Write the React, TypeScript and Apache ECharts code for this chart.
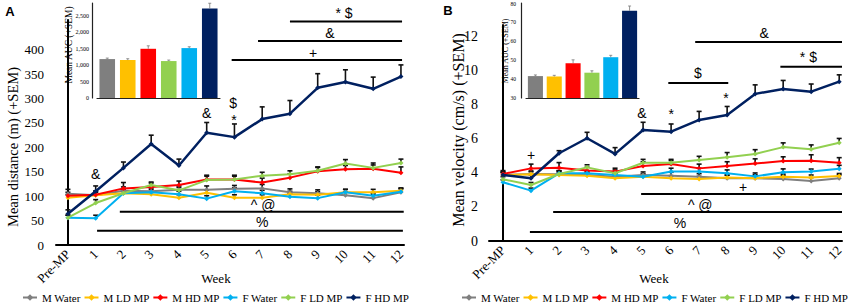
import React, { useEffect, useRef } from 'react';
import * as echarts from 'echarts';

const weeks = ['Pre-MP', '1', '2', '3', '4', '5', '6', '7', '8', '9', '10', '11', '12'];
const weekIdx = weeks.map((_, i) => i);

const seriesNames = ['M Water', 'M LD MP', 'M HD MP', 'F Water', 'F LD MP', 'F HD MP'];
const seriesColors = ['#7f7f7f', '#ffc000', '#ff0000', '#00b0f0', '#92d050', '#002060'];

// Panel A: mean distance (m)
const distMWater = [105, 102, 111, 110, 113, 113, 115, 116, 108, 106, 102, 96, 108];
const distMLd = [97, 102, 106, 104, 97, 107, 97, 97, 104, 103, 108, 108, 111];
const distMHd = [101, 103, 116, 119, 123, 134, 134, 128, 138, 151, 155, 156, 148];
const distFWater = [56, 55, 106, 108, 104, 95, 110, 106, 99, 96, 108, 101, 109];
const distFLd = [56, 86, 106, 123, 112, 133, 134, 142, 145, 152, 167, 158, 168];
const distFHd = [64, 110, 158, 207, 163, 230, 221, 258, 269, 322, 334, 320, 345];

const distErrMWater = [9, 7, 8, 7, 8, 8, 7, 8, 7, 7, 7, 8, 8];
const distErrMLd = [6, 6, 6, 5, 6, 6, 6, 6, 6, 6, 6, 6, 6];
const distErrMHd = [7, 8, 12, 8, 8, 9, 9, 9, 8, 8, 8, 8, 12];
const distErrFWater = [5, 6, 6, 6, 6, 6, 7, 6, 6, 6, 6, 6, 6];
const distErrFLd = [5, 7, 6, 6, 6, 8, 7, 7, 7, 8, 8, 10, 8];
const distErrFHd = [8, 11, 12, 18, 13, 21, 27, 25, 27, 29, 25, 24, 24];

// Panel B: mean velocity (cm/s)
const velMWater = [3.88, 3.94, 3.92, 3.88, 3.78, 3.88, 3.84, 3.78, 3.69, 3.69, 3.65, 3.53, 3.69];
const velMLd = [3.88, 3.92, 3.88, 3.84, 3.69, 3.78, 3.69, 3.65, 3.73, 3.69, 3.78, 3.73, 3.82];
const velMHd = [3.94, 4.27, 4.31, 4.14, 4.08, 4.41, 4.53, 4.27, 4.41, 4.55, 4.7, 4.72, 4.6];
const velFWater = [3.45, 2.96, 3.98, 3.98, 3.88, 3.78, 4.08, 4.08, 3.98, 3.8, 4.04, 4.08, 4.25];
const velFLd = [3.63, 3.29, 3.94, 4.33, 3.98, 4.6, 4.6, 4.76, 4.92, 5.12, 5.52, 5.4, 5.78];
const velFHd = [3.88, 3.69, 5.16, 6.04, 5.12, 6.53, 6.43, 7.12, 7.41, 8.65, 8.94, 8.78, 9.37];

const velErrMWater = [0.2, 0.18, 0.18, 0.18, 0.18, 0.18, 0.2, 0.18, 0.18, 0.2, 0.2, 0.2, 0.2];
const velErrMLd = [0.15, 0.15, 0.15, 0.15, 0.15, 0.15, 0.15, 0.15, 0.15, 0.15, 0.15, 0.15, 0.15];
const velErrMHd = [0.2, 0.25, 0.3, 0.2, 0.2, 0.25, 0.2, 0.25, 0.25, 0.28, 0.25, 0.35, 0.3];
const velErrFWater = [0.15, 0.15, 0.15, 0.15, 0.15, 0.15, 0.2, 0.2, 0.2, 0.2, 0.2, 0.15, 0.2];
const velErrFLd = [0.15, 0.15, 0.2, 0.15, 0.2, 0.2, 0.2, 0.22, 0.28, 0.25, 0.25, 0.25, 0.25];
const velErrFHd = [0.15, 0.2, 0.15, 0.35, 0.37, 0.45, 0.45, 0.5, 0.5, 0.53, 0.5, 0.45, 0.4];

// Insets: mean AUC (+SEM)
const aucGroups = ['G1', 'G2', 'G3', 'G4', 'G5', 'G6'];
const aucColors = ['#7f7f7f', '#ffc000', '#ff0000', '#92d050', '#00b0f0', '#002060'];
const aucDist = [1180, 1150, 1492, 1120, 1513, 2712];
const aucDistErr = [30, 40, 90, 30, 40, 160];
const aucVel = [41.6, 41.4, 48.4, 43.4, 51.6, 76.2];
const aucVelErr = [0.6, 0.6, 1.8, 1.0, 1.0, 2.5];

// Tick labels
const distTicks = [0, 50, 100, 150, 200, 250, 300, 350, 400];
const velTicks = [0, 2, 4, 6, 8, 10, 12];
const aucDistTicks = [0, 500, 1000, 1500, 2000, 2500];
const aucVelTicks = [30, 40, 50, 60, 70, 80];

// Significance bars: [x start, x end, y]
const sigLinesA = [[8.0, 12.04, 458], [6.85, 12.04, 418], [5.9, 12.04, 379], [1.87, 12.1, 68], [1.05, 12.07, 29]];
const sigLinesB = [[6.86, 12.1, 11.7], [9.9, 12.1, 10.24], [5.9, 8.04, 9.29], [4.93, 12.1, 2.76], [1.79, 12.1, 1.7], [0.96, 12.1, 0.53]];
// Significance marks: [x, y] and their texts
const marksA = [[9.95, 476], [9.44, 435], [8.83, 393], [7.03, 82], [7.0, 47], [1.0, 146], [5.0, 271], [5.95, 291], [5.98, 257]];
const marksTextA = ['* $', '&', '+', '^ @', '%', '&', '&', '$', '*'];
const marksB = [[9.32, 12.24], [10.9, 10.8], [6.96, 9.88], [7.96, 8.4], [6.0, 7.45], [4.96, 7.53], [1.0, 5.06], [8.57, 3.18], [7.04, 2.12], [6.32, 1.06]];
const marksTextB = ['&', '* $', '$', '*', '*', '&', '+', '+', '^ @', '%'];

const SERIF = 'Liberation Serif, Times New Roman, serif';
const SANS = 'Liberation Sans, Arial, sans-serif';

function errData(vals: number[][], errs: number[][]) {
  const out: number[][] = [];
  vals.forEach((arr, s) => arr.forEach((v, i) => out.push([i, v, errs[s][i], s])));
  return out;
}

function errRender(cap: number, width: number, color: string) {
  return (params: any, api: any) => {
    const x = api.value(0);
    const v = api.value(1);
    const e = api.value(2);
    const p0 = api.coord([x, v]);
    const p1 = api.coord([x, v + e]);
    return {
      type: 'group',
      children: [
        { type: 'line', shape: { x1: p0[0], y1: p0[1], x2: p1[0], y2: p1[1] }, style: { stroke: color, lineWidth: width } },
        { type: 'line', shape: { x1: p1[0] - cap, y1: p1[1], x2: p1[0] + cap, y2: p1[1] }, style: { stroke: color, lineWidth: width } },
      ],
    };
  };
}

function sigRender(params: any, api: any) {
  const p0 = api.coord([api.value(0), api.value(2)]);
  const p1 = api.coord([api.value(1), api.value(2)]);
  return { type: 'line', shape: { x1: p0[0], y1: p0[1], x2: p1[0], y2: p1[1] }, style: { stroke: '#000', lineWidth: 2 } };
}

function markRender(texts: string[]) {
  return (params: any, api: any) => {
    const p = api.coord([api.value(0), api.value(1)]);
    return {
      type: 'text',
      x: p[0],
      y: p[1],
      style: { text: texts[params.dataIndex], fill: '#000', fontSize: 14, fontFamily: SANS, align: 'center', verticalAlign: 'middle' },
    };
  };
}

function mainXAxis(grid: number, min: number, max: number, fontSize: number) {
  return {
    gridIndex: grid,
    type: 'value',
    min,
    max,
    axisLine: { show: true, onZero: false, lineStyle: { color: '#000', width: 2 } },
    axisTick: { show: false },
    splitLine: { show: false },
    axisLabel: {
      customValues: weekIdx,
      formatter: (v: number) => weeks[Math.round(v)],
      rotate: 45,
      margin: 7,
      fontFamily: SERIF,
      fontSize,
      color: '#000',
    },
  };
}

function buildOption() {
  const distVals = [distMWater, distMLd, distMHd, distFWater, distFLd, distFHd];
  const distErrs = [distErrMWater, distErrMLd, distErrMHd, distErrFWater, distErrFLd, distErrFHd];
  const velVals = [velMWater, velMLd, velMHd, velFWater, velFLd, velFHd];
  const velErrs = [velErrMWater, velErrMLd, velErrMHd, velErrFWater, velErrFLd, velErrFHd];

  const lineSeries = (vals: number[][], xi: number, yi: number) =>
    vals.map((arr, s) => ({
      name: seriesNames[s],
      type: 'line',
      xAxisIndex: xi,
      yAxisIndex: yi,
      data: arr.map((v, i) => [weekIdx[i], v]),
      symbol: 'diamond',
      symbolSize: 5,
      color: seriesColors[s],
      lineStyle: { width: s === 5 ? 2.5 : 2, color: seriesColors[s] },
      itemStyle: { color: seriesColors[s] },
      z: 3 + s,
    }));

  const legendBase = {
    data: seriesNames,
    top: 292,
    padding: 0,
    itemWidth: 14,
    itemHeight: 8,
    itemGap: 3,
    selectedMode: false,
    textStyle: { fontFamily: SERIF, fontSize: 11, color: '#000' },
  };

  return {
    animation: false,
    backgroundColor: '#fff',
    grid: [
      { left: 56, top: 20, width: 348, height: 225 },
      { left: 97, top: 3, width: 123, height: 95 },
      { left: 489, top: 25, width: 353, height: 216 },
      { left: 526, top: 3, width: 113, height: 95 },
    ],
    xAxis: [
      mainXAxis(0, -0.43, 12.11, 13),
      {
        gridIndex: 1, type: 'category', data: aucGroups,
        axisLine: { lineStyle: { color: '#222', width: 1.2 } }, axisTick: { show: false }, axisLabel: { show: false },
      },
      mainXAxis(2, -0.5, 12.1, 13),
      {
        gridIndex: 3, type: 'category', data: aucGroups,
        axisLine: { lineStyle: { color: '#222', width: 1.2 } }, axisTick: { show: false }, axisLabel: { show: false },
      },
    ],
    yAxis: [
      {
        gridIndex: 0, type: 'value', min: 0, max: 461,
        axisLine: { show: true, lineStyle: { color: '#000', width: 2 } }, axisTick: { show: false }, splitLine: { show: false },
        axisLabel: { customValues: distTicks, margin: 12, fontFamily: SERIF, fontSize: 13, color: '#000' },
      },
      {
        gridIndex: 1, type: 'value', min: 0, max: 2880, offset: 5,
        axisLine: { show: true, lineStyle: { color: '#222', width: 1.2 } }, axisTick: { show: false }, splitLine: { show: false },
        axisLabel: { customValues: aucDistTicks, margin: 3, fontFamily: SERIF, fontSize: 6, color: '#000' },
      },
      {
        gridIndex: 2, type: 'value', min: 0, max: 12.7,
        axisLine: { show: true, lineStyle: { color: '#000', width: 2 } }, axisTick: { show: false }, splitLine: { show: false },
        axisLabel: { customValues: velTicks, margin: 11, fontFamily: SERIF, fontSize: 14, color: '#000' },
      },
      {
        gridIndex: 3, type: 'value', min: 30, max: 80.3, offset: 5,
        axisLine: { show: true, lineStyle: { color: '#222', width: 1.2 } }, axisTick: { show: false }, splitLine: { show: false },
        axisLabel: { customValues: aucVelTicks, margin: 5, fontFamily: SERIF, fontSize: 5.5, color: '#000' },
      },
    ],
    legend: [
      { ...legendBase, left: 22 },
      { ...legendBase, left: 461 },
    ],
    graphic: [
      { type: 'text', x: 10, y: 11, style: { text: 'A', fontFamily: SANS, fontWeight: 'bold', fontSize: 13, fill: '#000', align: 'center', verticalAlign: 'middle' } },
      { type: 'text', x: 448, y: 10, style: { text: 'B', fontFamily: SANS, fontWeight: 'bold', fontSize: 13, fill: '#000', align: 'center', verticalAlign: 'middle' } },
      { type: 'text', x: 13, y: 147, rotation: Math.PI / 2, style: { text: 'Mean distance (m) (+SEM)', fontFamily: SERIF, fontSize: 14.5, fill: '#000', align: 'center', verticalAlign: 'middle' } },
      { type: 'text', x: 458, y: 130, rotation: Math.PI / 2, style: { text: 'Mean velocity (cm/s) (+SEM)', fontFamily: SERIF, fontSize: 16, fill: '#000', align: 'center', verticalAlign: 'middle' } },
      { type: 'text', x: 68.5, y: 45, rotation: Math.PI / 2, style: { text: 'Mean AUC (+SEM)', fontFamily: SERIF, fontSize: 9.5, fill: '#000', align: 'center', verticalAlign: 'middle' } },
      { type: 'text', x: 505, y: 51, rotation: Math.PI / 2, style: { text: 'Mean AUC (+SEM)', fontFamily: SERIF, fontSize: 8, fill: '#000', align: 'center', verticalAlign: 'middle' } },
      { type: 'text', x: 216, y: 278, style: { text: 'Week', fontFamily: SERIF, fontSize: 13, fill: '#000', align: 'center', verticalAlign: 'middle' } },
      { type: 'text', x: 654, y: 278, style: { text: 'Week', fontFamily: SERIF, fontSize: 13, fill: '#000', align: 'center', verticalAlign: 'middle' } },
    ],
    series: [
      // Panel A
      { type: 'custom', name: 'errA', xAxisIndex: 0, yAxisIndex: 0, data: errData(distVals, distErrs), renderItem: errRender(2.5, 1.6, '#111'), silent: true, z: 2 },
      ...lineSeries(distVals, 0, 0),
      { type: 'custom', name: 'sigA', xAxisIndex: 0, yAxisIndex: 0, data: sigLinesA, renderItem: sigRender, silent: true, z: 10 },
      { type: 'custom', name: 'marksA', xAxisIndex: 0, yAxisIndex: 0, data: marksA, renderItem: markRender(marksTextA), silent: true, z: 10 },
      {
        type: 'bar', name: 'aucA', xAxisIndex: 1, yAxisIndex: 1, clip: true, barCategoryGap: '24%',
        data: aucDist.map((v, i) => ({ value: v, itemStyle: { color: aucColors[i] } })),
      },
      { type: 'custom', name: 'aucErrA', xAxisIndex: 1, yAxisIndex: 1, data: aucDist.map((v, i) => [i, v, aucDistErr[i]]), renderItem: errRender(1.5, 0.8, '#777'), silent: true, z: 5 },
      // Panel B
      { type: 'custom', name: 'errB', xAxisIndex: 2, yAxisIndex: 2, data: errData(velVals, velErrs), renderItem: errRender(2.5, 1.6, '#111'), silent: true, z: 2 },
      ...lineSeries(velVals, 2, 2),
      { type: 'custom', name: 'sigB', xAxisIndex: 2, yAxisIndex: 2, data: sigLinesB, renderItem: sigRender, silent: true, z: 10 },
      { type: 'custom', name: 'marksB', xAxisIndex: 2, yAxisIndex: 2, data: marksB, renderItem: markRender(marksTextB), silent: true, z: 10 },
      {
        type: 'bar', name: 'aucB', xAxisIndex: 3, yAxisIndex: 3, clip: true, barCategoryGap: '20%',
        data: aucVel.map((v, i) => ({ value: v, itemStyle: { color: aucColors[i] } })),
      },
      { type: 'custom', name: 'aucErrB', xAxisIndex: 3, yAxisIndex: 3, data: aucVel.map((v, i) => [i, v, aucVelErr[i]]), renderItem: errRender(1.5, 0.8, '#777'), silent: true, z: 5 },
    ],
  };
}

export default function App() {
  const ref = useRef<HTMLDivElement>(null);
  useEffect(() => {
    const chart = echarts.init(ref.current as HTMLDivElement, null, { renderer: 'svg' });
    chart.setOption(buildOption() as any);
    return () => chart.dispose();
  }, []);
  return <div ref={ref} style={{ position: 'absolute', left: 0, top: 0, width: 856, height: 307 }} />;
}
